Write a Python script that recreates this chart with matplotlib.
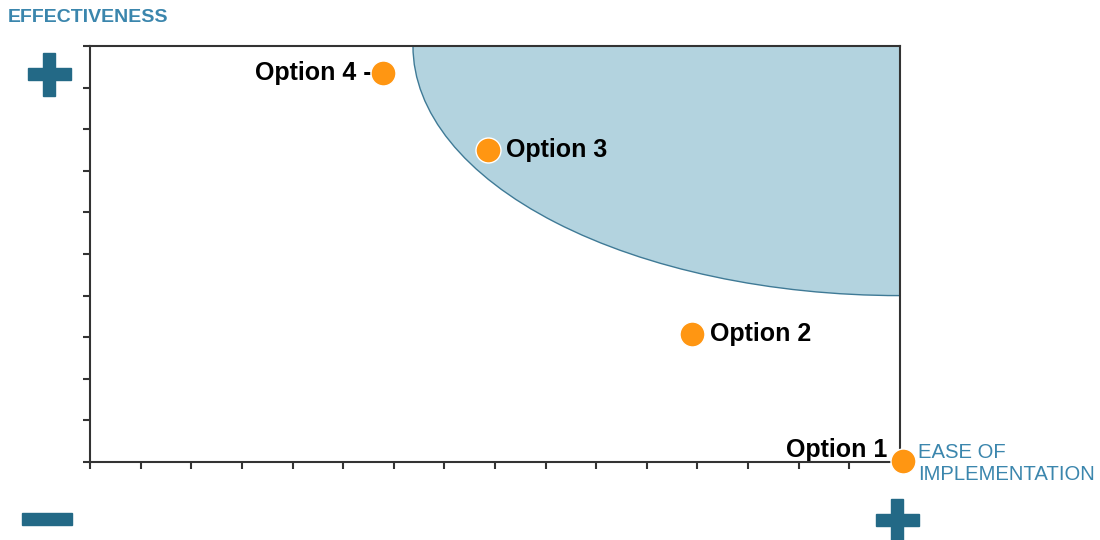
import numpy as np
import matplotlib.pyplot as plt
from matplotlib.patches import Ellipse, Rectangle

# datos
opciones = ['Option 1', 'Option 2', 'Option 3', 'Option 4']
facilidad = [16.05, 11.9, 7.87, 5.79]
efectividad = [0.02, 3.08, 7.5, 9.35]

# zona deseable (cuarto de elipse en la esquina superior derecha)
zona_centro = (16, 10)
zona_radios = (9.62, 6.0)

naranja = '#ff9612'
azul_texto = '#3b86ad'
azul_signo = '#236986'

plt.rcParams['font.family'] = ['Liberation Sans', 'DejaVu Sans']

fig = plt.figure(figsize=(11, 5.4), dpi=100)
ax = fig.add_axes([90 / 1100, 78 / 540, 810 / 1100, 416 / 540])
ax.set_xlim(0, 16)
ax.set_ylim(0, 10)

ax.add_patch(Ellipse(zona_centro, 2 * zona_radios[0], 2 * zona_radios[1],
                     facecolor='#b3d3df', edgecolor='#3f7a96', lw=1, zorder=1))

ax.set_xticks(np.arange(0, 17, 1))
ax.set_yticks(np.arange(0, 11, 1))
ax.set_xticklabels([])
ax.set_yticklabels([])
ax.tick_params(direction='out', length=5, width=1.5, color='#333333')
for s in ax.spines.values():
    s.set_color('#333333')
    s.set_linewidth(1.5)
    s.set_zorder(3)

ax.plot(facilidad, efectividad, 'o', ms=18, mfc=naranja, mec='white', mew=1,
        clip_on=False, zorder=5)

estilo = dict(fontsize=18, fontweight='bold', color='black', va='center',
              annotation_clip=False)
ax.annotate(opciones[0], (facilidad[0], efectividad[0]), xytext=(-11, 8),
            textcoords='offset points', ha='right', **estilo)
for i in (1, 2):
    ax.annotate(opciones[i], (facilidad[i], efectividad[i]), xytext=(13, 0),
                textcoords='offset points', ha='left', **estilo)
ax.annotate(opciones[3] + ' -', (facilidad[3], efectividad[3]), xytext=(-8, 0),
            textcoords='offset points', ha='right', **estilo)

fig.text(8 / 1100, 1 - 17 / 540, 'EFFECTIVENESS', fontsize=14, fontweight='bold',
         color=azul_texto, ha='left', va='center')
fig.text(918 / 1100, 1 - 463 / 540, 'EASE OF\nIMPLEMENTATION', fontsize=14.6,
         color=azul_texto, ha='left', va='center', linespacing=1.2)


def signo(cx, cy, ancho, grosor, mas=True):
    # dibuja + o - en pixeles de la figura (y desde arriba)
    W, H = 1100, 540
    fig.patches.append(Rectangle(((cx - ancho / 2) / W, 1 - (cy + grosor / 2) / H),
                                 ancho / W, grosor / H, transform=fig.transFigure,
                                 color=azul_signo, zorder=10))
    if mas:
        fig.patches.append(Rectangle(((cx - grosor / 2) / W, 1 - (cy + ancho / 2) / H),
                                     grosor / W, ancho / H, transform=fig.transFigure,
                                     color=azul_signo, zorder=10))


signo(49, 74, 43, 12)
signo(47, 519, 50, 12, mas=False)
signo(897, 520, 43, 12)

fig.savefig('out.png', dpi=100)
plt.close()
